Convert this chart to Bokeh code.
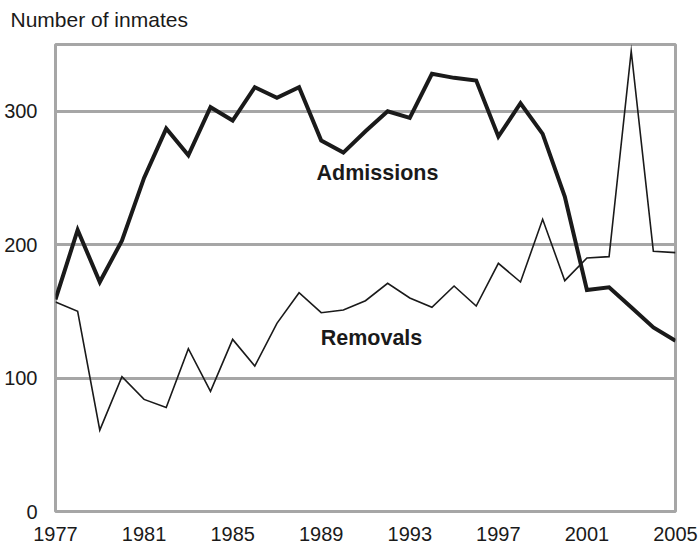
from bokeh.plotting import figure
from bokeh.models import FixedTicker, Range1d, Label, Title, ColumnDataSource
from bokeh.embed import file_html
from bokeh.resources import INLINE

years = list(range(1977, 2006))
admissions = [159, 211, 172, 203, 250, 287, 267, 303, 293, 318, 310, 318, 278, 269,
              285, 300, 295, 328, 325, 323, 281, 306, 283, 236, 166, 168, 153, 138, 128]
removals = [157, 150, 61, 101, 84, 78, 122, 90, 129, 109, 141, 164, 149, 151,
            158, 171, 160, 153, 169, 154, 186, 172, 219, 173, 190, 191, 345, 195, 194]
x_ticks = [1977, 1981, 1985, 1989, 1993, 1997, 2001, 2005]
y_ticks = [0, 100, 200, 300]
title_text = "Number of inmates"
series_labels = ["Admissions", "Removals"]

src = ColumnDataSource(dict(year=years, adm=admissions, rem=removals))

GRAY = "#a6a6a6"
INK = "#1a1a1a"
FONT = "Liberation Sans"

p = figure(width=699, height=546, output_backend="svg", toolbar_location=None,
           x_range=Range1d(1977, 2005), y_range=Range1d(0, 350),
           min_border_left=55, min_border_right=24, min_border_top=44, min_border_bottom=35)

# main title (outermost above panel)
p.title.text = title_text
p.title.align = "left"
p.title.vertical_align = "top"
p.title.offset = -45
p.title.standoff = 14
p.title.text_font = FONT
p.title.text_font_size = "21px"
p.title.text_font_style = "normal"
p.title.text_color = INK

# thin spacer between title and frame
p.add_layout(Title(text=" ", text_font_size="2px", standoff=0.3), "above")

p.outline_line_color = GRAY
p.outline_line_width = 3

p.xgrid.visible = False
p.ygrid.ticker = FixedTicker(ticks=y_ticks)
p.ygrid.grid_line_color = GRAY
p.ygrid.grid_line_width = 3

p.xaxis.ticker = FixedTicker(ticks=x_ticks)
p.yaxis.ticker = FixedTicker(ticks=y_ticks)
for ax in (p.xaxis, p.yaxis):
    ax.axis_line_color = None
    ax.major_tick_line_color = None
    ax.minor_tick_line_color = None
    ax.major_label_text_font = FONT
    ax.major_label_text_font_size = "20px"
    ax.major_label_text_color = INK
p.xaxis.major_label_standoff = 9
p.yaxis.major_label_standoff = 12

p.line("year", "rem", source=src, line_color=INK, line_width=1.6, line_join="miter")
p.line("year", "adm", source=src, line_color=INK, line_width=4, line_join="miter")

p.add_layout(Label(x=1991.54, y=254, text=series_labels[0], text_align="center",
                   text_baseline="middle", text_font=FONT, text_font_size="21.5px",
                   text_font_style="bold", text_color=INK))
p.add_layout(Label(x=1991.27, y=130, text=series_labels[1], text_align="center",
                   text_baseline="middle", text_font=FONT, text_font_size="21.5px",
                   text_font_style="bold", text_color=INK))

open("out.html", "w").write(file_html(p, INLINE))
